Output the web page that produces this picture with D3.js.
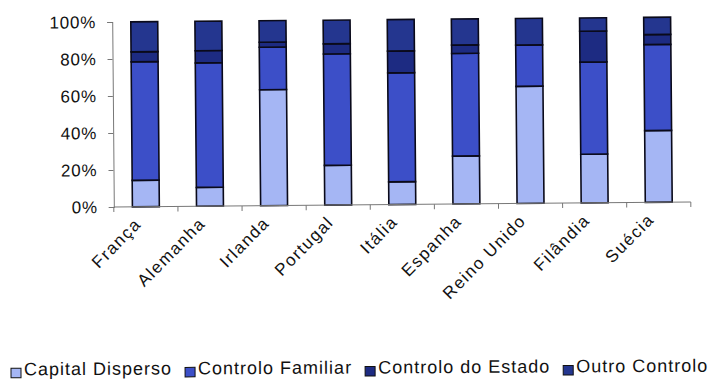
<!DOCTYPE html>
<html>
<head>
<meta charset="utf-8">
<script src="https://cdn.jsdelivr.net/npm/d3@7"></script>
<style>
  html, body { margin: 0; padding: 0; background: #fff; }
  svg { display: block; }
  text { font-family: "Liberation Sans", Arial, sans-serif; fill: #111; }
</style>
</head>
<body>
<svg id="chart" width="708" height="380"></svg>
<script>
// Ownership structure of listed companies by country (share of firms, %)
const countries = ["França", "Alemanha", "Irlanda", "Portugal", "Itália", "Espanha", "Reino Unido", "Filândia", "Suécia"];
const seriesNames = ["Capital Disperso", "Controlo Familiar", "Controlo do Estado", "Outro Controlo"];
const capitalDisperso  = [14.3, 10.2, 62.7, 21.5, 12.3, 25.9, 63.3, 26.3, 38.8];
const controloFamiliar = [64.1, 67.3, 23.0, 60.2, 58.9, 55.5, 22.3, 49.8, 46.5];
const controloEstado   = [5.4, 6.6, 2.7, 5.5, 11.8, 4.5, 0.0, 16.7, 5.4];
const outroControlo    = [16.2, 15.9, 11.6, 12.8, 17.0, 14.1, 14.4, 7.2, 9.3];
const yTicks = [0, 0.2, 0.4, 0.6, 0.8, 1.0];

const colors = ["#a5b6f4", "#3c4fc8", "#1d2b82", "#24368f"];

const svg = d3.select("#chart");
const margin = { left: 113, right: 18, top: 19.5, bottom: 175.5 };
const W = 708, H = 380;
const x0 = margin.left, x1 = W - margin.right;
const y0 = H - margin.bottom, y1 = margin.top;

// Whole drawing is tilted very slightly counter-clockwise
const g = svg.append("g").attr("transform", "rotate(-0.5, 402, 112)");

const rows = countries.map((c, i) => ({
  country: c,
  "Capital Disperso": capitalDisperso[i],
  "Controlo Familiar": controloFamiliar[i],
  "Controlo do Estado": controloEstado[i],
  "Outro Controlo": outroControlo[i]
}));

// Normalise each country to 100%
const stack = d3.stack().keys(seriesNames).offset(d3.stackOffsetExpand);
const layers = stack(rows);

const x = d3.scaleBand().domain(countries).range([x0, x1]).paddingInner(0.58).paddingOuter(0.29);
const y = d3.scaleLinear().domain([0, 1]).range([y0, y1]);

// Bars
g.selectAll("g.layer").data(layers).join("g")
  .attr("class", "layer")
  .attr("fill", (d, i) => colors[i])
  .selectAll("rect").data(d => d).join("rect")
  .attr("x", d => x(d.data.country))
  .attr("width", x.bandwidth())
  .attr("y", d => y(d[1]))
  .attr("height", d => Math.max(0, y(d[0]) - y(d[1])))
  .attr("stroke", "#0a0a1a")
  .attr("stroke-width", 1.6);

// Y axis
const yAxis = d3.axisLeft(y).tickValues(yTicks).tickFormat(d3.format(".0%")).tickSize(5).tickPadding(12);
const ya = g.append("g").attr("transform", `translate(${x0},0)`).call(yAxis);
ya.attr("font-family", null).attr("font-size", null);
ya.select(".domain").attr("stroke", "#777").attr("stroke-width", 1);
ya.selectAll(".tick line").attr("stroke", "#777");
ya.selectAll(".tick text")
  .attr("font-size", 17)
  .attr("letter-spacing", 0.8)
  .attr("fill", "#111")
  .attr("x", -16);

// X axis: ticks sit between categories
const xa = g.append("g").attr("transform", `translate(0,${y0})`);
xa.append("line").attr("x1", x0).attr("x2", x1).attr("stroke", "#777");
const boundaries = d3.range(countries.length + 1).map(i => x0 + i * (x1 - x0) / countries.length);
xa.selectAll("line.tk").data(boundaries).join("line")
  .attr("class", "tk")
  .attr("x1", d => d).attr("x2", d => d)
  .attr("y1", 0).attr("y2", 5)
  .attr("stroke", "#777");

// Category labels at 45 degrees
xa.selectAll("text.cat").data(countries).join("text")
  .attr("class", "cat")
  .attr("text-anchor", "end")
  .attr("font-size", 17)
  .attr("letter-spacing", 1.5)
  .attr("transform", d => `translate(${x(d) + x.bandwidth() / 2 - 8},${14}) rotate(-45)`)
  .attr("dy", "0.35em")
  .text(d => d);

// Legend
const legend = svg.append("g").attr("transform", "rotate(-0.3, 360, 370) translate(11,371)");
let lx = 0;
seriesNames.forEach((name, i) => {
  const item = legend.append("g").attr("transform", `translate(${lx},0)`);
  item.append("rect").attr("x", 0).attr("y", -4.5).attr("width", 10).attr("height", 9.5)
    .attr("fill", colors[i]).attr("stroke", "#111").attr("stroke-width", 1);
  const t = item.append("text").attr("x", 13).attr("y", 2.5)
    .attr("font-size", 18)
    .attr("letter-spacing", 1)
    .text(name);
  lx += 13 + t.node().getComputedTextLength() + 13;
});
</script>
</body>
</html>
